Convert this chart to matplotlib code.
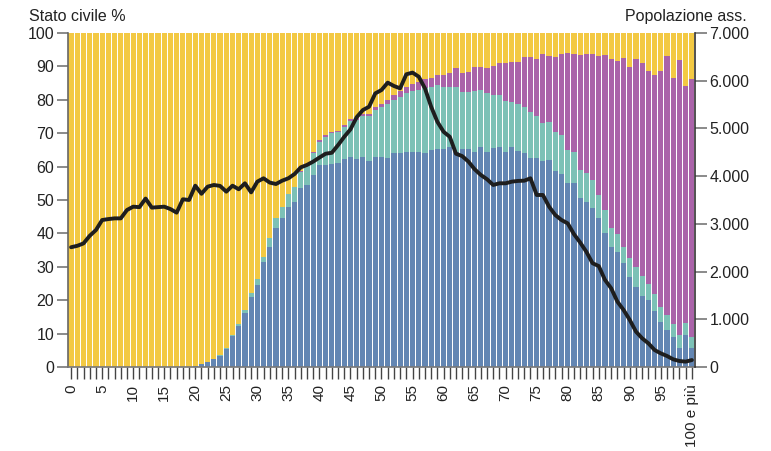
import numpy as np
import matplotlib.pyplot as plt
from matplotlib.ticker import FuncFormatter

plt.rcParams['font.family'] = ['Liberation Sans', 'DejaVu Sans']

# età 0..100 (l'ultima classe è "100 e più")
eta = np.arange(0, 101)

# stato civile, % sul totale per età
coniugati = [0] * 20 + [
    0.3, 0.8, 1.5, 2.3, 3.4, 5.5, 9.3, 12.4, 16.2, 21.0,
    24.5, 31.5, 36.0, 41.5, 44.5, 48.0, 49.5, 53.5, 54.5, 57.5,
    60.5, 60.5, 60.8, 61.2, 62.2, 63.0, 62.2, 63.0, 61.6, 63.0,
    63.0, 62.7, 64.2, 64.2, 64.4, 64.5, 64.3, 64.2, 65.0, 65.3,
    65.3, 66.0, 64.5, 65.2, 65.2, 64.5, 65.8, 64.5, 65.5, 65.8,
    64.5, 65.8, 64.8, 64.0, 62.7, 62.7, 61.7, 62.0, 58.8, 57.8,
    55.0, 55.0, 50.6, 49.5, 47.6, 44.6, 40.2, 36.0, 34.5, 31.0,
    27.0, 24.0, 21.3, 20.0, 16.9, 13.6, 11.1, 9.1, 5.6, 9.6,
    5.6,
]
divorziati = [0] * 24 + [
    0.1, 0.2, 0.3, 0.5, 0.8, 1.2,
    1.7, 1.4, 2.7, 3.0, 3.4, 3.8, 4.4, 5.0, 5.6, 6.7,
    7.0, 8.5, 9.2, 9.1, 9.8, 10.7, 11.7, 12.1, 13.5, 13.9,
    14.7, 16.0, 15.7, 16.7, 17.7, 18.1, 18.6, 19.2, 18.9, 19.1,
    18.4, 17.7, 19.4, 17.2, 17.2, 18.2, 17.1, 17.6, 15.9, 15.6,
    15.2, 13.6, 13.9, 13.9, 13.7, 12.4, 11.4, 11.4, 11.6, 11.7,
    10.0, 9.5, 8.5, 8.5, 8.3, 6.8, 6.8, 5.5, 5.2, 5.0,
    5.5, 5.8, 6.0, 4.8, 5.0, 4.5, 4.5, 3.8, 4.0, 3.5,
    3.5,
]
vedovi = [0] * 37 + [
    0.2, 0.2, 0.3,
    0.4, 0.4, 0.3, 0.3, 0.5, 0.5, 0.6, 0.6, 0.7, 0.8,
    1.0, 1.2, 1.4, 1.6, 1.8, 2.0, 2.3, 2.8, 2.7, 3.0,
    3.7, 4.2, 5.5, 5.7, 6.0, 7.2, 7.0, 7.5, 8.7, 9.5,
    11.2, 12.0, 12.7, 14.8, 16.5, 17.1, 20.6, 19.7, 22.5, 24.2,
    28.9, 29.3, 34.3, 35.7, 37.8, 41.7, 46.4, 50.7, 51.9, 56.6,
    57.4, 62.3, 63.6, 63.9, 65.5, 70.6, 77.5, 73.5, 82.3, 71.0,
    77.0,
]

# popolazione assoluta per età
popolazione = [
    2510, 2540, 2590, 2750, 2870, 3080, 3100, 3115, 3115, 3290,
    3360, 3350, 3530, 3340, 3350, 3360, 3310, 3235, 3515, 3500,
    3800, 3630, 3780, 3815, 3795, 3675, 3800, 3725, 3850, 3660,
    3885, 3955, 3865, 3835, 3905, 3955, 4045, 4185, 4235, 4305,
    4390, 4470, 4490, 4650, 4825, 4980, 5235, 5385, 5455, 5735,
    5805, 5960, 5890, 5840, 6135, 6170, 6085, 5840, 5455, 5140,
    4930, 4825, 4470, 4420, 4305, 4145, 4025, 3935, 3815, 3850,
    3850, 3885, 3900, 3905, 3955, 3605, 3605, 3360, 3185, 3080,
    3010, 2785, 2610, 2415, 2175, 2115, 1825, 1650, 1370, 1195,
    985, 740, 600, 495, 355, 285, 230, 160, 125, 112,
    145,
]

coniugati = np.array(coniugati)
divorziati = np.array(divorziati)
vedovi = np.array(vedovi)
celibi = 100 - coniugati - divorziati - vedovi

c_blu = '#6386b3'
c_verde = '#7cc1b6'
c_viola = '#aa63a9'
c_giallo = '#f3c943'

fig = plt.figure(figsize=(7.71, 4.51), dpi=100)
ax = fig.add_axes([0.0882, 0.1863, 0.8132, 0.7405])

w = 0.84
ax.bar(eta, coniugati, width=w, color=c_blu, linewidth=0)
ax.bar(eta, divorziati, width=w, bottom=coniugati, color=c_verde, linewidth=0)
ax.bar(eta, vedovi, width=w, bottom=coniugati + divorziati, color=c_viola, linewidth=0)
ax.bar(eta, celibi, width=w, bottom=coniugati + divorziati + vedovi,
       color=c_giallo, linewidth=0)

ax.set_xlim(-0.5, 100.5)
ax.set_ylim(0, 100)
ax.set_yticks(range(0, 101, 10))
ax.set_xticks(eta)
etichette = [str(a) if a % 5 == 0 else '' for a in eta]
etichette[-1] = '100 e più'
ax.set_xticklabels(etichette, rotation=90, va='top')

fs = 11.5
ax.tick_params(axis='y', length=8, width=1.2, color='#777777',
               labelsize=fs, pad=2, labelcolor='#222222')
ax.tick_params(axis='x', length=8.5, width=1.0, color='#444444',
               labelsize=11, pad=4, labelcolor='#222222')
for s in ['top', 'right']:
    ax.spines[s].set_visible(False)
ax.spines['left'].set_color('#666666')
ax.spines['left'].set_linewidth(1.2)
ax.spines['bottom'].set_color('#777777')
ax.spines['bottom'].set_linewidth(1.2)

ax2 = ax.twinx()
ax2.plot(eta, popolazione, color='#1e1e1e', linewidth=2.8,
         solid_joinstyle='round', solid_capstyle='round')
ax2.set_ylim(0, 7000)
ax2.set_yticks(range(0, 7001, 1000))
ax2.yaxis.set_major_formatter(FuncFormatter(lambda v, p: f'{int(v):,}'.replace(',', '.')))
ax2.tick_params(axis='y', length=8.5, width=1.2, color='#777777',
                labelsize=fs, pad=2, labelcolor='#222222')
for s in ['top', 'left', 'bottom']:
    ax2.spines[s].set_visible(False)
ax2.spines['right'].set_color('#333333')
ax2.spines['right'].set_linewidth(1.2)

fig.text(0.037, 0.963, 'Stato civile %', fontsize=fs, color='#222222',
         ha='left', va='center')
fig.text(0.969, 0.963, 'Popolazione ass.', fontsize=fs, color='#222222',
         ha='right', va='center')

fig.savefig('out.png', dpi=100)
